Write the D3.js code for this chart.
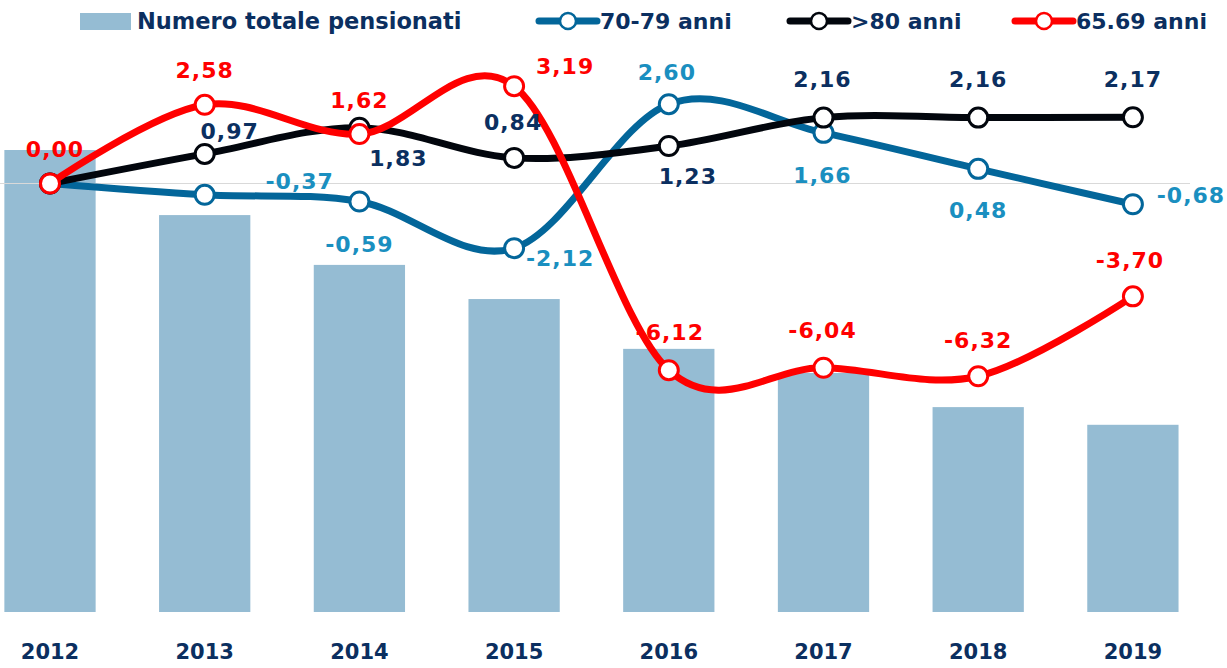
<!DOCTYPE html>
<html><head><meta charset="utf-8">
<script src="https://cdn.jsdelivr.net/npm/d3@7"></script>
<style>body{margin:0;background:#fff}svg{display:block}text{font-family:"DejaVu Sans",sans-serif;font-weight:bold}</style>
</head><body><svg id="c" width="1227" height="668"></svg>
<script>
const years = ["2012","2013","2014","2015","2016","2017","2018","2019"];
// Numero totale pensionati (migliaia, stima dalle barre)
const pensionati = [16650, 16488, 16364, 16279, 16155, 16095, 16010, 15966];
const serie7079 = [0.00, -0.37, -0.59, -2.12, 2.60, 1.66, 0.48, -0.68];
const serieOver80 = [0.00, 0.97, 1.83, 0.84, 1.23, 2.16, 2.16, 2.17];
const serie6569 = [0.00, 2.58, 1.62, 3.19, -6.12, -6.04, -6.32, -3.70];
const legendLabels = ["Numero totale pensionati", "70-79 anni", ">80 anni", "65.69 anni"];

// label placement offsets (dx, dy from point), null = no label
const off7079 = [null,[95,-13],[0,43],[46,10],[-2,-32],[-1,43],[0,42],[58,-9]];
const offOver80 = [null,[25,-22],[39,31],[-1,-35],[19,31],[-1,-38],[0,-38],[0,-38]];
const off6569 = [[5,-34],[0,-34],[0,-34],[51,-20],[1,-38],[-1,-37],[0,-36],[-3,-36]];

const svg = d3.select("#c");
const fmt = v => d3.format(".2f")(v).replace(".", ",").replace("−","-");

const x = d3.scaleBand().domain(years).range([-27.35, 1210.25]).paddingInner(0.41).paddingOuter(0.205);
const cx = d => x(d) + x.bandwidth()/2;
const yBar = d3.scaleLinear().domain([15500, 16650]).range([612, 150]);
const y = d3.scaleLinear().domain([-8, 4.5]).range([183.5 + 8*30.5, 183.5 - 4.5*30.5]);

// bars
svg.append("g").selectAll("rect").data(years).join("rect")
  .attr("x", d => x(d)).attr("width", x.bandwidth())
  .attr("y", (d,i) => yBar(pensionati[i]))
  .attr("height", (d,i) => yBar(15500) - yBar(pensionati[i]))
  .attr("fill", "#95bcd3");

// zero line
svg.append("line").attr("x1", 0).attr("x2", 1190).attr("y1", y(0)).attr("y2", y(0))
  .attr("stroke", "#d9d9d9").attr("stroke-width", 1);

// x axis
const xAxis = svg.append("g").attr("transform", "translate(0,612)")
  .call(d3.axisBottom(x).tickSize(0).tickPadding(32));
xAxis.select(".domain").remove();
xAxis.selectAll("text").attr("font-size", 21).attr("fill", "#0b2f60")
  .style("font-family", "'DejaVu Sans',sans-serif").style("font-weight", "bold");

const series = [
  {vals: serie7079, line: "#03669a", lab: "#1a8fc0", off: off7079},
  {vals: serieOver80, line: "#02060d", lab: "#0b2f60", off: offOver80},
  {vals: serie6569, line: "#ff0000", lab: "#ff0000", off: off6569}
];
const lineGen = d3.line().x((d,i) => cx(years[i])).y(d => y(d)).curve(d3.curveCardinal.tension(0));

series.forEach(s => {
  const g = svg.append("g");
  g.append("path").attr("d", lineGen(s.vals)).attr("fill", "none")
    .attr("stroke", s.line).attr("stroke-width", 7).attr("stroke-linecap", "round");
  g.selectAll("circle").data(s.vals).join("circle")
    .attr("cx", (d,i) => cx(years[i])).attr("cy", d => y(d)).attr("r", 9.5)
    .attr("fill", "#fff").attr("stroke", s.line).attr("stroke-width", 3);
});
series.forEach(s => {
  svg.append("g").selectAll("text").data(s.vals.map((v,i)=>({v,i,o:s.off[i]})).filter(d => d.o))
    .join("text")
    .attr("x", d => cx(years[d.i]) + d.o[0]).attr("y", d => y(d.v) + d.o[1])
    .attr("text-anchor", "middle").attr("dominant-baseline", "central")
    .attr("font-size", 22).attr("letter-spacing", 1).attr("fill", s.lab)
    .text(d => fmt(d.v));
});

// legend
const lg = svg.append("g");
lg.append("rect").attr("x", 80).attr("y", 13).attr("width", 51).attr("height", 17).attr("fill", "#95bcd3");
lg.append("text").attr("x", 137).attr("y", 21).attr("dominant-baseline", "central")
  .attr("font-size", 22.5).attr("fill", "#0b2f60").text(legendLabels[0]);
const legItems = [[539, series[0]], [790, series[1]], [1015, series[2]]];
legItems.forEach(([lx, s], k) => {
  lg.append("line").attr("x1", lx).attr("x2", lx + 58).attr("y1", 21).attr("y2", 21)
    .attr("stroke", s.line).attr("stroke-width", 7).attr("stroke-linecap", "round");
  lg.append("circle").attr("cx", lx + 29).attr("cy", 21).attr("r", 8)
    .attr("fill", "#fff").attr("stroke", s.line).attr("stroke-width", 2.5);
  lg.append("text").attr("x", lx + 61).attr("y", 21).attr("dominant-baseline", "central")
    .attr("font-size", 22).attr("fill", "#0b2f60").text(legendLabels[k+1]);
});
</script></body></html>
